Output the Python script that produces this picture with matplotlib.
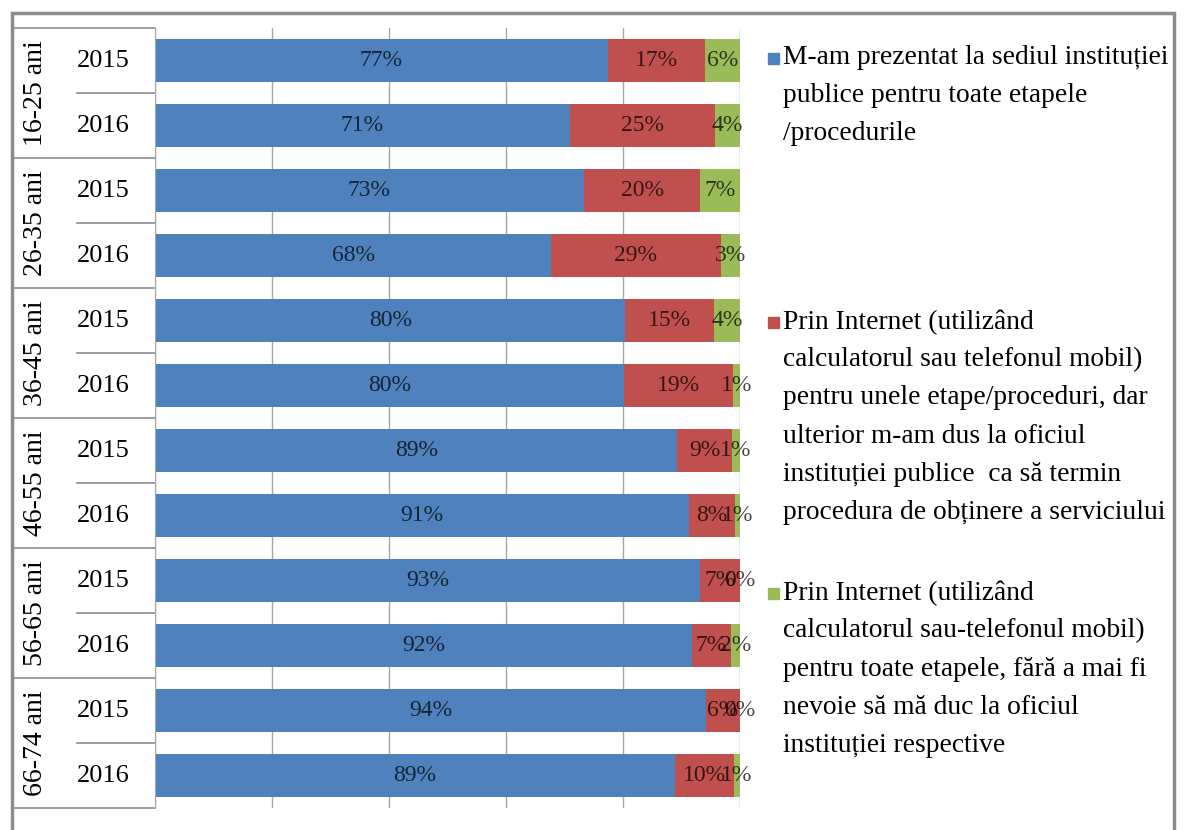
import matplotlib.pyplot as plt
from matplotlib.patches import Rectangle
from matplotlib.transforms import blended_transform_factory

plt.rcParams['font.family'] = ['Liberation Serif', 'DejaVu Serif']

ages = ['16-25 ani', '26-35 ani', '36-45 ani', '46-55 ani', '56-65 ani', '66-74 ani']
years = ['2015', '2016']

# share of respondents (%), one value per age group / year, top to bottom
sediu = [77.4, 70.9, 73.3, 67.7, 80.4, 80.2, 89.3, 91.2, 93.2, 91.8, 94.2, 88.9]
partial = [16.6, 24.8, 19.9, 29.0, 15.2, 18.6, 9.3, 7.9, 6.8, 6.6, 5.8, 10.0]
online = [6.0, 4.3, 6.8, 3.3, 4.4, 1.2, 1.4, 0.9, 0.0, 1.6, 0.0, 1.1]

names = [
    "M-am prezentat la sediul instituției\npublice pentru toate etapele\n/procedurile",
    "Prin Internet (utilizând\ncalculatorul sau telefonul mobil)\npentru unele etape/proceduri, dar\n"
    "ulterior m-am dus la oficiul\ninstituției publice  ca să termin\nprocedura de obținere a serviciului",
    "Prin Internet (utilizând\ncalculatorul sau-telefonul mobil)\npentru toate etapele, fără a mai fi\n"
    "nevoie să mă duc la oficiul\ninstituției respective",
]
colors = ['#4F81BD', '#C0504D', '#9BBB59']

W, H = 1186, 830
fig = plt.figure(figsize=(W / 100, H / 100), dpi=100)
ax = fig.add_axes([155 / W, 1 - 808 / H, 585 / W, 780 / H])

rows = list(range(len(sediu)))
left = [0.0] * len(rows)
for vals, c in zip([sediu, partial, online], colors):
    ax.barh(rows, vals, left=left, height=0.65, color=c, zorder=2)
    for r, v, l in zip(rows, vals, left):
        ax.text(l + v / 2, r, f"{v:.0f}%", ha='center', va='center',
                fontsize=17, color='black', alpha=0.72, zorder=3)
    left = [a + b for a, b in zip(left, vals)]

ax.set_xlim(0, 100)
ax.set_ylim(len(rows) - 0.5, -0.5)
ax.set_xticks(range(0, 101, 20))
ax.set_yticks([])
ax.tick_params(axis='x', length=0, labelbottom=False)
ax.grid(axis='x', color='#A6A6A6', lw=1, zorder=0)
for s in ['top', 'right', 'bottom']:
    ax.spines[s].set_visible(False)
ax.spines['left'].set_color('#A6A6A6')

# category table on the left
tr = blended_transform_factory(fig.transFigure, ax.transData)
x0, x1, x2 = 14 / W, 77 / W, 155 / W
for g, age in enumerate(ages):
    top = 2 * g - 0.5
    ax.plot([x0, x2], [top, top], color='#8C8C8C', lw=1.2, transform=tr, clip_on=False)
    ax.plot([x1, x2], [top + 1, top + 1], color='#8C8C8C', lw=1.2, transform=tr, clip_on=False)
    ax.text(35 / W, 2 * g + 0.5, age, rotation=90, ha='center', va='center',
            fontsize=20, transform=tr)
    for k, yr in enumerate(years):
        ax.text(103 / W, 2 * g + k, yr, ha='center', va='center', fontsize=19, transform=tr)
ax.plot([x0, x2], [len(rows) - 0.5] * 2, color='#8C8C8C', lw=1.2, transform=tr, clip_on=False)

# legend
starts = [58, 322, 593]
for name, c, y0 in zip(names, colors, starts):
    fig.add_artist(Rectangle((768 / W, 1 - (y0 + 6) / H), 11 / W, 11 / H,
                             color=c, transform=fig.transFigure))
    for i, line in enumerate(name.split('\n')):
        fig.text(783 / W, 1 - (y0 + i * 38) / H, line, ha='left', va='center', fontsize=19.8)

# outer frame
fig.add_artist(Rectangle((12 / W, -0.05), 1162 / W, 1.05 - 13 / H, fill=False,
                         edgecolor='#8C8C8C', lw=2.5, transform=fig.transFigure))

fig.savefig('out.png', dpi=100)
